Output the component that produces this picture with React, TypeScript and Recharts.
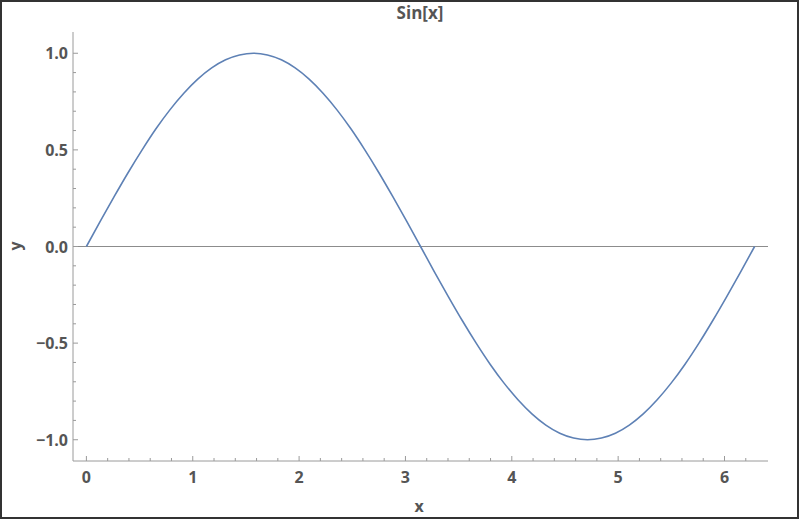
import React from 'react'
import {
  LineChart,
  Line,
  XAxis,
  YAxis,
  ReferenceLine,
  Customized,
} from 'recharts'

// x samples (step of about pi/24) and the y values
const xValues = [
  0, 0.131, 0.262, 0.393, 0.524, 0.654, 0.785, 0.916, 1.047, 1.178, 1.309,
  1.44, 1.571, 1.702, 1.833, 1.963, 2.094, 2.225, 2.356, 2.487, 2.618, 2.749,
  2.88, 3.011, 3.142, 3.272, 3.403, 3.534, 3.665, 3.796, 3.927, 4.058, 4.189,
  4.32, 4.451, 4.581, 4.712, 4.843, 4.974, 5.105, 5.236, 5.367, 5.498, 5.629,
  5.76, 5.89, 6.021, 6.152, 6.283,
]
const yValues = [
  0, 0.131, 0.259, 0.383, 0.5, 0.609, 0.707, 0.793, 0.866, 0.924, 0.966,
  0.991, 1.0, 0.991, 0.966, 0.924, 0.866, 0.793, 0.707, 0.609, 0.5, 0.383,
  0.259, 0.131, 0, -0.131, -0.259, -0.383, -0.5, -0.609, -0.707, -0.793,
  -0.866, -0.924, -0.966, -0.991, -1.0, -0.991, -0.966, -0.924, -0.866,
  -0.793, -0.707, -0.609, -0.5, -0.383, -0.259, -0.131, 0,
]

const xTicks = [
  0, 0.2, 0.4, 0.6, 0.8, 1, 1.2, 1.4, 1.6, 1.8, 2, 2.2, 2.4, 2.6, 2.8, 3, 3.2,
  3.4, 3.6, 3.8, 4, 4.2, 4.4, 4.6, 4.8, 5, 5.2, 5.4, 5.6, 5.8, 6, 6.2,
]
const yTicks = [
  -1, -0.9, -0.8, -0.7, -0.6, -0.5, -0.4, -0.3, -0.2, -0.1, 0, 0.1, 0.2, 0.3,
  0.4, 0.5, 0.6, 0.7, 0.8, 0.9, 1,
]

const title = 'Sin[x]'
const xLabel = 'x'
const yLabel = 'y'

const data = xValues.map((x, i) => ({ x, y: yValues[i] }))

const AXIS = '#9a9a9a'
const TEXT = '#555555'
const FONT = '"Open Sans", sans-serif'
const LINE = '#5e81b5'

const isInt = (v: number) => Math.abs(v - Math.round(v)) < 1e-6
const isHalf = (v: number) => isInt(v * 2)
const fmtY = (v: number) => {
  const s = Math.abs(v).toFixed(1)
  return v < -1e-9 ? '\u2212' + s : s
}

const tickText = {
  fill: TEXT,
  fontFamily: FONT,
  fontWeight: 700,
  fontSize: 16,
}

const BottomTick = ({ x, y, payload }: any) => {
  const major = isInt(payload.value)
  return (
    <g>
      <line x1={x} x2={x} y1={y} y2={y - (major ? 5 : 3)} stroke={AXIS} />
      {major && (
        <text x={x} y={y + 22} textAnchor="middle" {...tickText}>
          {Math.round(payload.value)}
        </text>
      )}
    </g>
  )
}

const TopTick = ({ x, y, payload }: any) => {
  const major = isInt(payload.value)
  return <line x1={x} x2={x} y1={y} y2={y + (major ? 5 : 3)} stroke={AXIS} />
}

const LeftTick = ({ x, y, payload }: any) => {
  const major = isHalf(payload.value)
  return (
    <g>
      <line x1={x} x2={x + (major ? 5 : 3)} y1={y} y2={y} stroke={AXIS} />
      {major && (
        <text x={x - 5} y={y + 6} textAnchor="end" {...tickText}>
          {fmtY(payload.value)}
        </text>
      )}
    </g>
  )
}

const RightTick = ({ x, y, payload }: any) => {
  const major = isHalf(payload.value)
  return <line x1={x} x2={x - (major ? 5 : 3)} y1={y} y2={y} stroke={AXIS} />
}

const Labels = () => (
  <g>
    <rect x={1} y={1} width={797} height={517} fill="none" stroke="#333" strokeWidth={2} />
    <text x={420} y={19} textAnchor="middle" {...tickText} fontSize={17}>
      {title}
    </text>
    <text x={419} y={512} textAnchor="middle" {...tickText}>
      {xLabel}
    </text>
    <text
      x={15}
      y={246}
      textAnchor="middle"
      dominantBaseline="central"
      transform="rotate(-90, 15, 246)"
      {...tickText}
    >
      {yLabel}
    </text>
  </g>
)

export default function App() {
  return (
    <div style={{ position: 'fixed', left: 0, top: 0, width: 800, height: 520, background: '#fff' }}>
      <LineChart
        width={800}
        height={520}
        data={data}
        margin={{ top: 32, right: 32, left: 13, bottom: 29 }}
      >
        <XAxis
          xAxisId="bottom"
          dataKey="x"
          type="number"
          domain={[-0.126, 6.409]}
          allowDataOverflow
          ticks={xTicks}
          interval={0}
          tickSize={0}
          tickMargin={0}
          tickLine={false}
          axisLine={{ stroke: AXIS }}
          tick={<BottomTick />}
          height={30}
        />
        <XAxis
          xAxisId="top"
          orientation="top"
          dataKey="x"
          type="number"
          domain={[-0.126, 6.409]}
          allowDataOverflow
          ticks={xTicks}
          interval={0}
          tickSize={0}
          tickMargin={0}
          tickLine={false}
          axisLine={{ stroke: AXIS }}
          tick={<TopTick />}
          height={0}
        />
        <YAxis
          yAxisId="left"
          type="number"
          domain={[-1.11, 1.11]}
          allowDataOverflow
          ticks={yTicks}
          interval={0}
          tickSize={0}
          tickMargin={0}
          tickLine={false}
          axisLine={{ stroke: AXIS }}
          tick={<LeftTick />}
          width={60}
        />
        <YAxis
          yAxisId="right"
          orientation="right"
          type="number"
          domain={[-1.11, 1.11]}
          allowDataOverflow
          ticks={yTicks}
          interval={0}
          tickSize={0}
          tickMargin={0}
          tickLine={false}
          axisLine={{ stroke: AXIS }}
          tick={<RightTick />}
          width={0}
        />
        <ReferenceLine
          xAxisId="bottom"
          yAxisId="left"
          y={0}
          stroke="#8c8c8c"
          strokeWidth={1.2}
        />
        <Line
          xAxisId="bottom"
          yAxisId="left"
          dataKey="y"
          type="monotone"
          stroke={LINE}
          strokeWidth={1.6}
          dot={false}
          isAnimationActive={false}
        />
        <Customized component={Labels} />
      </LineChart>
    </div>
  )
}
